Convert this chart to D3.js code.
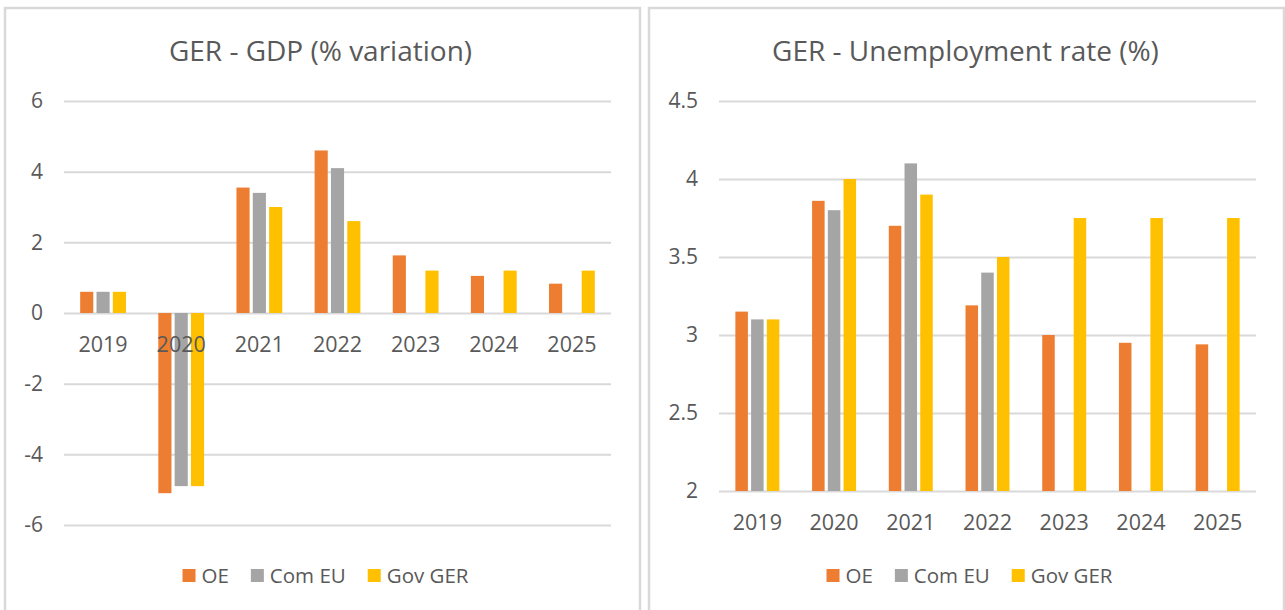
<!DOCTYPE html>
<html>
<head>
<meta charset="utf-8">
<script src="https://cdn.jsdelivr.net/npm/d3@7"></script>
<style>
  html, body { margin: 0; padding: 0; background: #ffffff; }
  svg { display: block; }
  text { font-family: "Open Sans", "Noto Sans", sans-serif; fill: #595959; }
</style>
</head>
<body>
<svg id="chart" width="1285" height="610"></svg>
<script>
// ---------- data ----------
const years = ["2019", "2020", "2021", "2022", "2023", "2024", "2025"];
const seriesNames = ["OE", "Com EU", "Gov GER"];
const seriesColors = ["#ED7D31", "#A5A5A5", "#FFC000"];

const gdpTitle = "GER - GDP (% variation)";
const gdpOE    = [0.6, -5.1, 3.55, 4.6, 1.63, 1.05, 0.83];
const gdpComEU = [0.6, -4.9, 3.4, 4.1, null, null, null];
const gdpGovGER = [0.6, -4.9, 3.0, 2.6, 1.2, 1.2, 1.2];
const gdpTicks = [-6, -4, -2, 0, 2, 4, 6];

const unTitle = "GER - Unemployment rate (%)";
const unOE    = [3.15, 3.86, 3.7, 3.19, 3.0, 2.95, 2.94];
const unComEU = [3.1, 3.8, 4.1, 3.4, null, null, null];
const unGovGER = [3.1, 4.0, 3.9, 3.5, 3.75, 3.75, 3.75];
const unTicks = [2, 2.5, 3, 3.5, 4, 4.5];

// ---------- drawing ----------
const svg = d3.select("#chart");

function drawPanel(cfg) {
  const g = svg.append("g");
  // panel frame
  g.append("rect")
    .attr("x", cfg.panel.x).attr("y", cfg.panel.y)
    .attr("width", cfg.panel.w).attr("height", cfg.panel.h)
    .attr("fill", "#ffffff").attr("stroke", "#D9D9D9").attr("stroke-width", 2.5);

  // title
  g.append("text")
    .attr("x", cfg.panel.x + cfg.panel.w / 2 + cfg.titleDx)
    .attr("y", 61)
    .attr("text-anchor", "middle")
    .style("font-size", "28px")
    .text(cfg.title);

  const x0 = d3.scaleBand().domain(years)
    .range([cfg.plot.x0, cfg.plot.x1])
    .paddingInner(cfg.pad).paddingOuter(cfg.pad / 2);
  const x1 = d3.scaleBand().domain(seriesNames).range([0, x0.bandwidth()]);
  const y = d3.scaleLinear().domain(cfg.domain).range([cfg.plot.yb, cfg.plot.yt]);

  // gridlines + y labels
  const yAxis = d3.axisLeft(y)
    .tickValues(cfg.ticks)
    .tickFormat(d => String(d))
    .tickSize(-(cfg.plot.x1 - cfg.plot.x0))
    .tickPadding(21);
  g.append("g")
    .attr("transform", `translate(${cfg.plot.x0},0)`)
    .call(yAxis)
    .call(a => a.select(".domain").remove())
    .call(a => a.selectAll(".tick line").attr("stroke", "#D9D9D9").attr("stroke-width", 2))
    .call(a => a.selectAll(".tick text")
      .style("font-size", "21px").style("font-family", "'Open Sans', sans-serif")
      .attr("fill", "#595959"));

  // bars
  const base = cfg.base;
  const data = [];
  cfg.series.forEach((vals, si) => {
    vals.forEach((v, i) => {
      if (v !== null && v !== undefined) data.push({ year: years[i], s: seriesNames[si], si, v });
    });
  });
  const gap = 3.2;
  g.append("g").selectAll("rect").data(data).join("rect")
    .attr("x", d => x0(d.year) + x1(d.s) + gap / 2)
    .attr("width", x1.bandwidth() - gap)
    .attr("y", d => Math.min(y(d.v), y(base)))
    .attr("height", d => Math.abs(y(d.v) - y(base)))
    .attr("fill", d => seriesColors[d.si]);

  // category axis labels
  const xAxis = d3.axisBottom(x0).tickSize(0);
  g.append("g")
    .attr("transform", `translate(0,${y(base)})`)
    .call(xAxis)
    .call(a => a.select(".domain").remove())
    .call(a => a.selectAll(".tick text")
      .attr("y", 39).attr("dy", 0)
      .style("font-size", "21.5px").style("font-family", "'Open Sans', sans-serif")
      .attr("fill", "#595959"));

  // legend
  const leg = g.append("g");
  const items = leg.selectAll("g").data(seriesNames).join("g");
  items.append("rect")
    .attr("width", 13).attr("height", 13)
    .attr("y", -7)
    .attr("fill", (d, i) => seriesColors[i]);
  items.append("text")
    .attr("x", 19).attr("y", 7)
    .style("font-size", "20.5px")
    .text(d => d);
  let cx = 0;
  items.each(function () {
    const w = this.querySelector("text").getComputedTextLength() + 19;
    d3.select(this).attr("transform", `translate(${cx},0)`);
    cx += w + 22;
  });
  const total = cx - 22;
  leg.attr("transform", `translate(${cfg.panel.x + cfg.panel.w / 2 + 3 - total / 2},${576})`);
}

drawPanel({
  panel: { x: 5, y: 8, w: 635, h: 640 },
  titleDx: -2,
  title: gdpTitle,
  plot: { x0: 64, x1: 611, yt: 101, yb: 525 },
  domain: [-6, 6],
  ticks: gdpTicks,
  base: 0,
  pad: 0.373,
  series: [gdpOE, gdpComEU, gdpGovGER]
});

drawPanel({
  panel: { x: 649, y: 8, w: 635, h: 640 },
  titleDx: -1,
  title: unTitle,
  plot: { x0: 719, x1: 1256, yt: 101, yb: 491 },
  domain: [2, 4.5],
  ticks: unTicks,
  base: 2,
  pad: 0.385,
  series: [unOE, unComEU, unGovGER]
});
</script>
</body>
</html>
